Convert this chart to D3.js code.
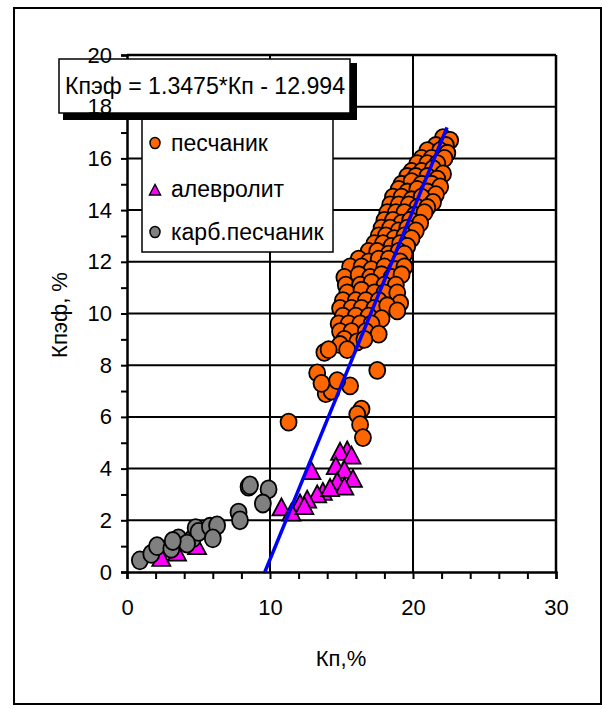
<!DOCTYPE html>
<html>
<head>
<meta charset="utf-8">
<script src="https://cdn.jsdelivr.net/npm/d3@7"></script>
<style>
  body { margin: 0; background: #fff; }
  text { font-family: "Liberation Sans", Arial, sans-serif; fill: #000; }
</style>
</head>
<body>
<div id="chart"></div>
<script>
// chart size
var svgWidth = 605;
var svgHeight = 709;

// series: песчаник [Кп, Кпэф]
var sandX = [22.1,22.6,21.6,22.3,21.0,21.9,22.4,20.6,21.3,22.2,20.3,21.0,21.7,19.9,20.6,21.4,22.1,
  19.6,20.2,21.0,21.7,19.2,19.9,20.6,21.3,21.9,19.0,19.6,20.3,21.0,21.6,18.6,19.2,19.9,20.6,21.4,
  18.4,19.0,19.7,20.3,21.0,18.2,18.8,19.4,20.1,20.8,18.0,18.6,19.2,19.8,20.5,17.8,18.4,19.0,19.6,20.2,
  17.6,18.1,18.7,19.4,19.9,17.3,17.9,18.5,19.1,19.6,16.9,17.5,18.3,19.0,19.4,16.2,16.9,17.6,18.3,19.1,
  15.6,16.4,17.1,18.0,18.8,19.4,15.2,16.2,17.0,17.8,18.5,19.2,15.3,16.3,17.1,18.0,18.8,
  15.4,16.4,17.3,18.0,18.9,15.1,16.0,16.7,17.6,19.1,14.9,15.7,16.4,17.3,18.2,18.9,
  15.1,16.0,16.9,17.8,14.8,15.5,16.3,17.1,14.9,15.7,16.7,17.6,15.2,16.1,16.6,14.9,15.4,13.8,14.1,
  11.3,16.4,16.1,16.3,16.5,17.5,13.3,13.9,14.3,15.6,14.7,13.6];
var sandY = [16.8,16.7,16.5,16.5,16.3,16.3,16.2,16.0,16.0,16.0,15.8,15.8,15.8,15.5,15.5,15.6,15.4,
  15.3,15.3,15.3,15.2,15.0,15.1,15.0,15.0,14.9,14.8,14.7,14.8,14.7,14.6,14.5,14.5,14.4,14.5,14.3,
  14.2,14.2,14.2,14.1,14.1,13.9,13.9,13.9,13.8,13.9,13.6,13.6,13.5,13.6,13.5,13.3,13.3,13.2,13.3,13.2,
  13.0,13.0,12.9,13.0,12.9,12.7,12.7,12.6,12.7,12.6,12.4,12.4,12.3,12.4,12.3,12.1,12.0,12.1,12.1,12.0,
  11.8,11.8,11.7,11.8,11.7,11.8,11.4,11.5,11.4,11.5,11.4,11.5,11.1,11.1,11.2,11.1,11.1,
  10.8,10.9,10.8,10.8,10.8,10.5,10.5,10.5,10.5,10.4,10.2,10.2,10.2,10.2,10.3,10.1,
  9.9,9.9,9.9,9.8,9.6,9.6,9.6,9.6,9.3,9.3,9.3,9.2,9.0,8.9,9.0,8.8,8.6,8.5,8.6,
  5.8,6.3,6.1,5.7,5.2,7.8,7.7,6.9,7.0,7.2,7.4,7.3];

// series: алевролит
var siltX = [15.4,14.9,15.7,12.9,14.6,15.2,15.8,14.7,15.2,13.7,13.3,12.6,12.1,14.2,10.8,11.5,12.4,
  2.4,3.5,4.9];
var siltY = [4.7,4.65,4.5,3.9,4.1,3.95,3.6,3.5,3.3,3.1,3.0,2.8,2.65,3.25,2.5,2.3,2.55,
  0.55,0.75,1.0];

// series: карб.песчаник
var carbX = [0.9,1.7,2.1,3.1,3.6,4.6,4.8,5.0,5.8,6.3,6.0,7.8,7.9,8.5,8.6,9.9,9.5,4.2,3.2];
var carbY = [0.45,0.7,1.0,0.9,1.3,1.3,1.7,1.55,1.75,1.8,1.3,2.3,2.0,3.3,3.35,3.2,2.65,1.1,1.2];

// trend line (as drawn on the picture)
var trendX = [9.64, 22.38];
var trendY = [0, 17.2];
var trendLabel = "Кпэф = 1.3475*Кп - 12.994";

var xTicks = d3.range(0, 31, 2);
var yTicks = d3.range(0, 21, 1);
var xLabels = [0, 10, 20, 30];
var legendNames = ["песчаник", "алевролит", "карб.песчаник"];

var svg = d3.select("#chart")
  .append("svg")
  .attr("width", svgWidth)
  .attr("height", svgHeight);

// outer frame
svg.append("rect")
  .attr("x", 14).attr("y", 8)
  .attr("width", 587).attr("height", 696)
  .attr("fill", "#fff")
  .attr("stroke", "#000")
  .attr("stroke-width", 2);

var x = d3.scaleLinear().domain([0, 30]).range([127, 556]);
var y = d3.scaleLinear().domain([0, 20]).range([572, 55]);

// gridlines
svg.append("g").selectAll("line")
  .data(d3.range(2, 21, 2))
  .enter().append("line")
  .attr("x1", x(0)).attr("x2", x(30))
  .attr("y1", d => y(d)).attr("y2", d => y(d))
  .attr("stroke", "#000").attr("stroke-width", d => d === 20 ? 2.5 : 2);

svg.append("g").selectAll("line")
  .data([10, 20, 30])
  .enter().append("line")
  .attr("x1", d => x(d)).attr("x2", d => x(d))
  .attr("y1", y(0)).attr("y2", y(20))
  .attr("stroke", "#000").attr("stroke-width", d => d === 30 ? 2.5 : 2);

// axes (lines and ticks)
var leftAxis = d3.axisLeft(y)
  .tickValues(yTicks)
  .tickSize(6)
  .tickFormat("");

var bottomAxis = d3.axisBottom(x)
  .tickValues(xTicks)
  .tickSize(7)
  .tickPadding(20)
  .tickFormat(d => xLabels.indexOf(d) >= 0 ? d : "");

var gx = svg.append("g")
  .attr("transform", `translate(0, ${y(0)})`)
  .call(bottomAxis);

var gy = svg.append("g")
  .attr("transform", `translate(${x(0)}, 0)`)
  .call(leftAxis);

[gx, gy].forEach(function(g) {
  g.select(".domain").attr("stroke", "#000").attr("stroke-width", 2.5);
  g.selectAll(".tick line").attr("stroke", "#000").attr("stroke-width", 2);
  g.selectAll(".tick text")
    .attr("font-size", "22px")
    .attr("font-family", "Liberation Sans, Arial, sans-serif");
});

// axis titles
svg.append("text")
  .attr("x", 341).attr("y", 666)
  .attr("text-anchor", "middle")
  .attr("font-size", "22px")
  .text("Кп,%");

svg.append("text")
  .attr("transform", "translate(67, 315) rotate(-90)")
  .attr("text-anchor", "middle")
  .attr("font-size", "22px")
  .text("Кпэф, %");

// markers
var tri = "M0,-9L9,8L-9,8Z";

var sand = sandX.map((v, i) => ({x: v, y: sandY[i]}));
var silt = siltX.map((v, i) => ({x: v, y: siltY[i]}));
var carb = carbX.map((v, i) => ({x: v, y: carbY[i]}));

svg.append("g").selectAll("ellipse")
  .data(sand).enter().append("ellipse")
  .attr("cx", d => x(d.x)).attr("cy", d => y(d.y))
  .attr("rx", 8).attr("ry", 8.5)
  .attr("fill", "#FF6600")
  .attr("stroke", "#000").attr("stroke-width", 1.8);

svg.append("g").selectAll("path")
  .data(silt).enter().append("path")
  .attr("transform", d => `translate(${x(d.x)}, ${y(d.y)})`)
  .attr("d", tri)
  .attr("fill", "#FF00FF")
  .attr("stroke", "#000").attr("stroke-width", 1.8);

svg.append("g").selectAll("ellipse")
  .data(carb).enter().append("ellipse")
  .attr("cx", d => x(d.x)).attr("cy", d => y(d.y))
  .attr("rx", 8).attr("ry", 9)
  .attr("fill", "#808080")
  .attr("stroke", "#000").attr("stroke-width", 1.8);

// trend line
svg.append("line")
  .attr("x1", x(trendX[0])).attr("y1", y(trendY[0]))
  .attr("x2", x(trendX[1])).attr("y2", y(trendY[1]))
  .attr("stroke", "#0000FF")
  .attr("stroke-width", 3.5);

// legend
var legend = svg.append("g");
legend.append("rect")
  .attr("x", 142).attr("y", 100)
  .attr("width", 191).attr("height", 152)
  .attr("fill", "#fff")
  .attr("stroke", "#000").attr("stroke-width", 1.5);

var legendY = [143, 189, 232];
legend.append("ellipse")
  .attr("cx", 155).attr("cy", legendY[0]).attr("rx", 5).attr("ry", 5.5)
  .attr("fill", "#FF6600").attr("stroke", "#000").attr("stroke-width", 1.5);
legend.append("path")
  .attr("transform", `translate(155, ${legendY[1] + 1}) scale(0.62)`)
  .attr("d", tri)
  .attr("fill", "#FF00FF").attr("stroke", "#000").attr("stroke-width", 2.2);
legend.append("ellipse")
  .attr("cx", 155).attr("cy", legendY[2]).attr("rx", 5).attr("ry", 5.5)
  .attr("fill", "#808080").attr("stroke", "#000").attr("stroke-width", 1.5);

legend.selectAll("text.leg")
  .data(legendNames).enter().append("text")
  .attr("class", "leg")
  .attr("x", 171)
  .attr("y", (d, i) => legendY[i] + 8)
  .attr("font-size", "23px")
  .text(d => d);

// equation box with shadow
svg.append("rect")
  .attr("x", 63).attr("y", 63)
  .attr("width", 294).attr("height", 57)
  .attr("fill", "#000");
svg.append("rect")
  .attr("x", 59).attr("y", 59)
  .attr("width", 291).attr("height", 54)
  .attr("fill", "#fff")
  .attr("stroke", "#000").attr("stroke-width", 1.5);
svg.append("text")
  .attr("x", 205).attr("y", 94)
  .attr("text-anchor", "middle")
  .attr("font-size", "23px")
  .attr("textLength", 280)
  .attr("lengthAdjust", "spacingAndGlyphs")
  .text(trendLabel);

// y tick labels are drawn over the equation box, as in the picture
var labelAxis = d3.axisLeft(y)
  .tickValues(d3.range(0, 21, 2))
  .tickSize(6)
  .tickPadding(9);
var gl = svg.append("g")
  .attr("transform", `translate(${x(0)}, 0)`)
  .call(labelAxis);
gl.select(".domain").remove();
gl.selectAll(".tick line").remove();
gl.selectAll(".tick text")
  .attr("font-size", "22px")
  .attr("font-family", "Liberation Sans, Arial, sans-serif");
</script>
</body>
</html>
